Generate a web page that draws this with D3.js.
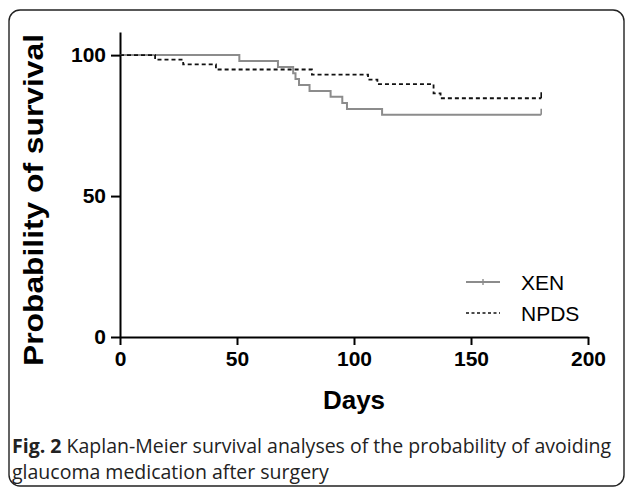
<!DOCTYPE html>
<html>
<head>
<meta charset="utf-8">
<script src="https://cdn.jsdelivr.net/npm/d3@7"></script>
<style>
  body { margin: 0; background: #fff; }
  svg text { font-family: "Liberation Sans", Arial, sans-serif; }
</style>
</head>
<body>
<script>
var width = 627;
var height = 488;

// Kaplan-Meier steps
var xenDays = [0, 51, 67.5, 74, 75, 76.5, 81, 90, 95, 97, 112, 180];
var xenSurv = [100, 97.9, 95.8, 93.6, 91.5, 89.4, 87.3, 85.2, 83.0, 80.9, 78.8, 78.8];
var npdsDays = [0, 15, 27, 41, 82, 106, 110, 134, 137, 180];
var npdsSurv = [100, 98.4, 96.7, 94.9, 93.1, 91.3, 89.7, 86.4, 84.7, 84.7];

var xTicks = [0, 50, 100, 150, 200];
var yTicks = [0, 50, 100];
var seriesNames = ["XEN", "NPDS"];

var svg = d3.select("body").append("svg")
    .attr("width", width)
    .attr("height", height);

// card border
svg.append("rect")
    .attr("x", 9)
    .attr("y", 10)
    .attr("width", 615)
    .attr("height", 476)
    .attr("rx", 11)
    .attr("fill", "none")
    .attr("stroke", "#222")
    .attr("stroke-width", 1.4);

var x = d3.scaleLinear().domain([0, 200]).range([120, 588]);
var y = d3.scaleLinear().domain([0, 108.2]).range([337, 32]);

// axes
var xAxis = svg.append("g")
    .attr("transform", "translate(0," + y(0) + ")")
    .call(d3.axisBottom(x).tickValues(xTicks).tickSize(8).tickPadding(6).tickSizeOuter(0));

var yAxis = svg.append("g")
    .attr("transform", "translate(" + x(0) + ",0)")
    .call(d3.axisLeft(y).tickValues(yTicks).tickSize(9).tickPadding(5).tickSizeOuter(0));

[xAxis, yAxis].forEach(function (g) {
    g.select(".domain").attr("stroke", "#000").attr("stroke-width", 2);
    g.selectAll(".tick line").attr("stroke", "#000").attr("stroke-width", 2);
    g.selectAll(".tick text")
        .attr("fill", "#000")
        .style("font-size", "21px")
        .style("font-weight", "bold");
});

// axis titles
svg.append("text")
    .text("Days")
    .attr("x", 354)
    .attr("y", 409)
    .attr("text-anchor", "middle")
    .style("font-size", "26px")
    .style("font-weight", "bold");

svg.append("text")
    .text("Probability of survival")
    .attr("transform", "translate(43,200) rotate(-90)")
    .attr("text-anchor", "middle")
    .attr("textLength", 332)
    .attr("lengthAdjust", "spacingAndGlyphs")
    .style("font-size", "28px")
    .style("font-weight", "bold");

// curves
var line = d3.line()
    .x(function (d) { return x(d[0]); })
    .y(function (d) { return y(d[1]); })
    .curve(d3.curveStepAfter);

var xenData = d3.zip(xenDays, xenSurv);
var npdsData = d3.zip(npdsDays, npdsSurv);

svg.append("path")
    .datum(xenData)
    .attr("d", line)
    .attr("fill", "none")
    .attr("stroke", "#8c8c8c")
    .attr("stroke-width", 2);

svg.append("path")
    .datum(npdsData)
    .attr("d", line)
    .attr("fill", "none")
    .attr("stroke", "#111")
    .attr("stroke-width", 1.8)
    .attr("stroke-dasharray", "4,3");

// censor ticks at end of follow-up
var last = [
    {d: xenData[xenData.length - 1], color: "#8c8c8c"},
    {d: npdsData[npdsData.length - 1], color: "#111"}
];
svg.selectAll(".censor").data(last).enter().append("line")
    .classed("censor", true)
    .attr("x1", function (d) { return x(d.d[0]); })
    .attr("x2", function (d) { return x(d.d[0]); })
    .attr("y1", function (d) { return y(d.d[1]); })
    .attr("y2", function (d) { return y(d.d[1]) - 6; })
    .attr("stroke", function (d) { return d.color; })
    .attr("stroke-width", 1.6);

// legend
var legend = svg.selectAll(".legend").data(seriesNames).enter().append("g")
    .classed("legend", true)
    .attr("transform", function (d, i) { return "translate(466," + (282 + i * 31) + ")"; });

legend.append("line")
    .attr("x1", 0).attr("x2", 34)
    .attr("y1", 0).attr("y2", 0)
    .attr("stroke", function (d, i) { return i === 0 ? "#8c8c8c" : "#111"; })
    .attr("stroke-width", function (d, i) { return i === 0 ? 2 : 1.6; })
    .attr("stroke-dasharray", function (d, i) { return i === 0 ? null : "3,2.5"; });

legend.filter(function (d, i) { return i === 0; }).append("line")
    .attr("x1", 17).attr("x2", 17)
    .attr("y1", -3).attr("y2", 3)
    .attr("stroke", "#8c8c8c")
    .attr("stroke-width", 1.4);

legend.append("text")
    .text(function (d) { return d; })
    .attr("x", 55)
    .attr("y", 8)
    .style("font-size", "21px");

// caption
var caption = svg.append("text")
    .attr("x", 12)
    .attr("y", 453)
    .style("font-family", "'Open Sans', sans-serif")
    .style("font-size", "19.5px")
    .attr("fill", "#222");
caption.append("tspan").text("Fig. 2").style("font-weight", "bold");
caption.append("tspan").text(" Kaplan-Meier survival analyses of the probability of avoiding");

svg.append("text")
    .attr("x", 12)
    .attr("y", 479)
    .style("font-family", "'Open Sans', sans-serif")
    .style("font-size", "19.5px")
    .attr("fill", "#222")
    .text("glaucoma medication after surgery");
</script>
</body>
</html>
